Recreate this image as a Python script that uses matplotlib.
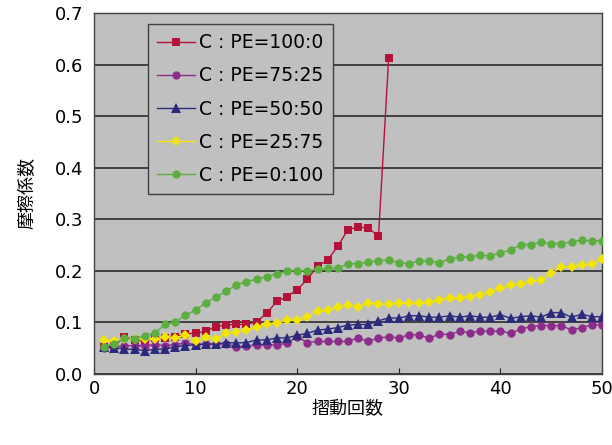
import matplotlib
matplotlib.use("Agg")
import matplotlib.pyplot as plt
from matplotlib.ticker import FormatStrFormatter

plt.rcParams['font.family'] = ['DejaVu Sans', 'Noto Sans CJK JP']

# sliding count (x) and friction coefficient per blend ratio
x_red = list(range(1, 30))
c100_pe0 = [0.052, 0.055, 0.072, 0.066, 0.064, 0.069, 0.070, 0.072, 0.078, 0.079,
            0.083, 0.092, 0.095, 0.096, 0.096, 0.101, 0.118, 0.141, 0.150, 0.163,
            0.184, 0.209, 0.221, 0.248, 0.280, 0.285, 0.283, 0.267, 0.612]

x_all = list(range(1, 51))
c75_pe25 = [0.050, 0.052, 0.055, 0.055, 0.055, 0.057, 0.055, 0.057, 0.060, 0.057,
            0.058, 0.058, 0.058, 0.053, 0.054, 0.056, 0.056, 0.056, 0.060, 0.072,
            0.061, 0.063, 0.063, 0.063, 0.063, 0.070, 0.063, 0.070, 0.072, 0.070,
            0.076, 0.076, 0.069, 0.078, 0.076, 0.083, 0.080, 0.083, 0.083, 0.083,
            0.079, 0.087, 0.092, 0.094, 0.094, 0.094, 0.085, 0.090, 0.095, 0.095]
c50_pe50 = [0.053, 0.051, 0.048, 0.048, 0.045, 0.048, 0.048, 0.053, 0.055, 0.057,
            0.058, 0.058, 0.061, 0.060, 0.061, 0.066, 0.066, 0.070, 0.070, 0.075,
            0.079, 0.085, 0.087, 0.090, 0.095, 0.096, 0.096, 0.103, 0.109, 0.108,
            0.113, 0.113, 0.110, 0.110, 0.113, 0.110, 0.113, 0.110, 0.110, 0.115,
            0.108, 0.111, 0.113, 0.110, 0.119, 0.119, 0.110, 0.116, 0.111, 0.111]
c25_pe75 = [0.065, 0.063, 0.067, 0.067, 0.068, 0.067, 0.072, 0.070, 0.076, 0.063,
            0.072, 0.067, 0.079, 0.082, 0.085, 0.092, 0.097, 0.099, 0.104, 0.104,
            0.111, 0.122, 0.124, 0.130, 0.134, 0.130, 0.138, 0.135, 0.135, 0.137,
            0.137, 0.137, 0.140, 0.143, 0.148, 0.148, 0.150, 0.153, 0.159, 0.166,
            0.172, 0.174, 0.180, 0.183, 0.195, 0.207, 0.207, 0.211, 0.214, 0.222]
c0_pe100 = [0.053, 0.059, 0.069, 0.068, 0.074, 0.080, 0.096, 0.101, 0.114, 0.124,
            0.138, 0.149, 0.160, 0.173, 0.179, 0.184, 0.189, 0.194, 0.200, 0.200,
            0.200, 0.203, 0.205, 0.205, 0.214, 0.214, 0.217, 0.220, 0.221, 0.216,
            0.214, 0.219, 0.219, 0.216, 0.223, 0.227, 0.227, 0.230, 0.229, 0.235,
            0.240, 0.251, 0.251, 0.256, 0.253, 0.253, 0.256, 0.260, 0.258, 0.258]

labels = ["C : PE=100:0", "C : PE=75:25", "C : PE=50:50", "C : PE=25:75", "C : PE=0:100"]
x_ticks = [0, 10, 20, 30, 40, 50]
y_ticks = [0.0, 0.1, 0.2, 0.3, 0.4, 0.5, 0.6, 0.7]

fig = plt.figure(figsize=(6.12, 4.45), dpi=100)
ax = fig.add_axes([0.1536, 0.1596, 0.9837 - 0.1536, 0.9708 - 0.1596])
ax.set_facecolor('#C0C0C0')

series = [
    (x_red, c100_pe0, '#B5123A', 's', 6.0),
    (x_all, c75_pe25, '#8E2C8C', 'o', 6.0),
    (x_all, c50_pe50, '#2C2A7C', '^', 6.5),
    (x_all, c25_pe75, '#F2E600', 'D', 5.0),
    (x_all, c0_pe100, '#5BAE3F', 'o', 6.0),
]
for (xs, ys, col, mk, ms), lab in zip(series, labels):
    ax.plot(xs, ys, color=col, marker=mk, markersize=ms, linewidth=1.0,
            markeredgewidth=0, label=lab, zorder=3)

ax.set_xlim(0, 50)
ax.set_ylim(0, 0.7)
ax.set_xticks(x_ticks)
ax.set_yticks(y_ticks)
ax.yaxis.set_major_formatter(FormatStrFormatter('%.1f'))
ax.grid(axis='y', color='#2A2A2A', linewidth=1.2, zorder=1)
ax.set_axisbelow(True)
for s in ax.spines.values():
    s.set_color('#404040')
    s.set_linewidth(1.0)
ax.tick_params(axis='x', direction='in', length=4, labelsize=13, pad=4, color='#202020')
ax.tick_params(axis='y', length=0, labelsize=13, pad=8)

ax.set_xlabel("摺動回数", fontsize=13, labelpad=1)
ax.set_ylabel("摩擦係数", fontsize=13, labelpad=13)

leg = ax.legend(loc='upper left', bbox_to_anchor=(0.106, 0.9695), fontsize=13.5,
                frameon=True, fancybox=False, framealpha=1.0,
                facecolor='#C0C0C0', edgecolor='#404040',
                labelspacing=0.75, handlelength=2.0, handletextpad=0.25,
                borderpad=0.5, borderaxespad=0)
leg.get_frame().set_linewidth(1.0)

fig.savefig("out.png", dpi=100, facecolor='white')
